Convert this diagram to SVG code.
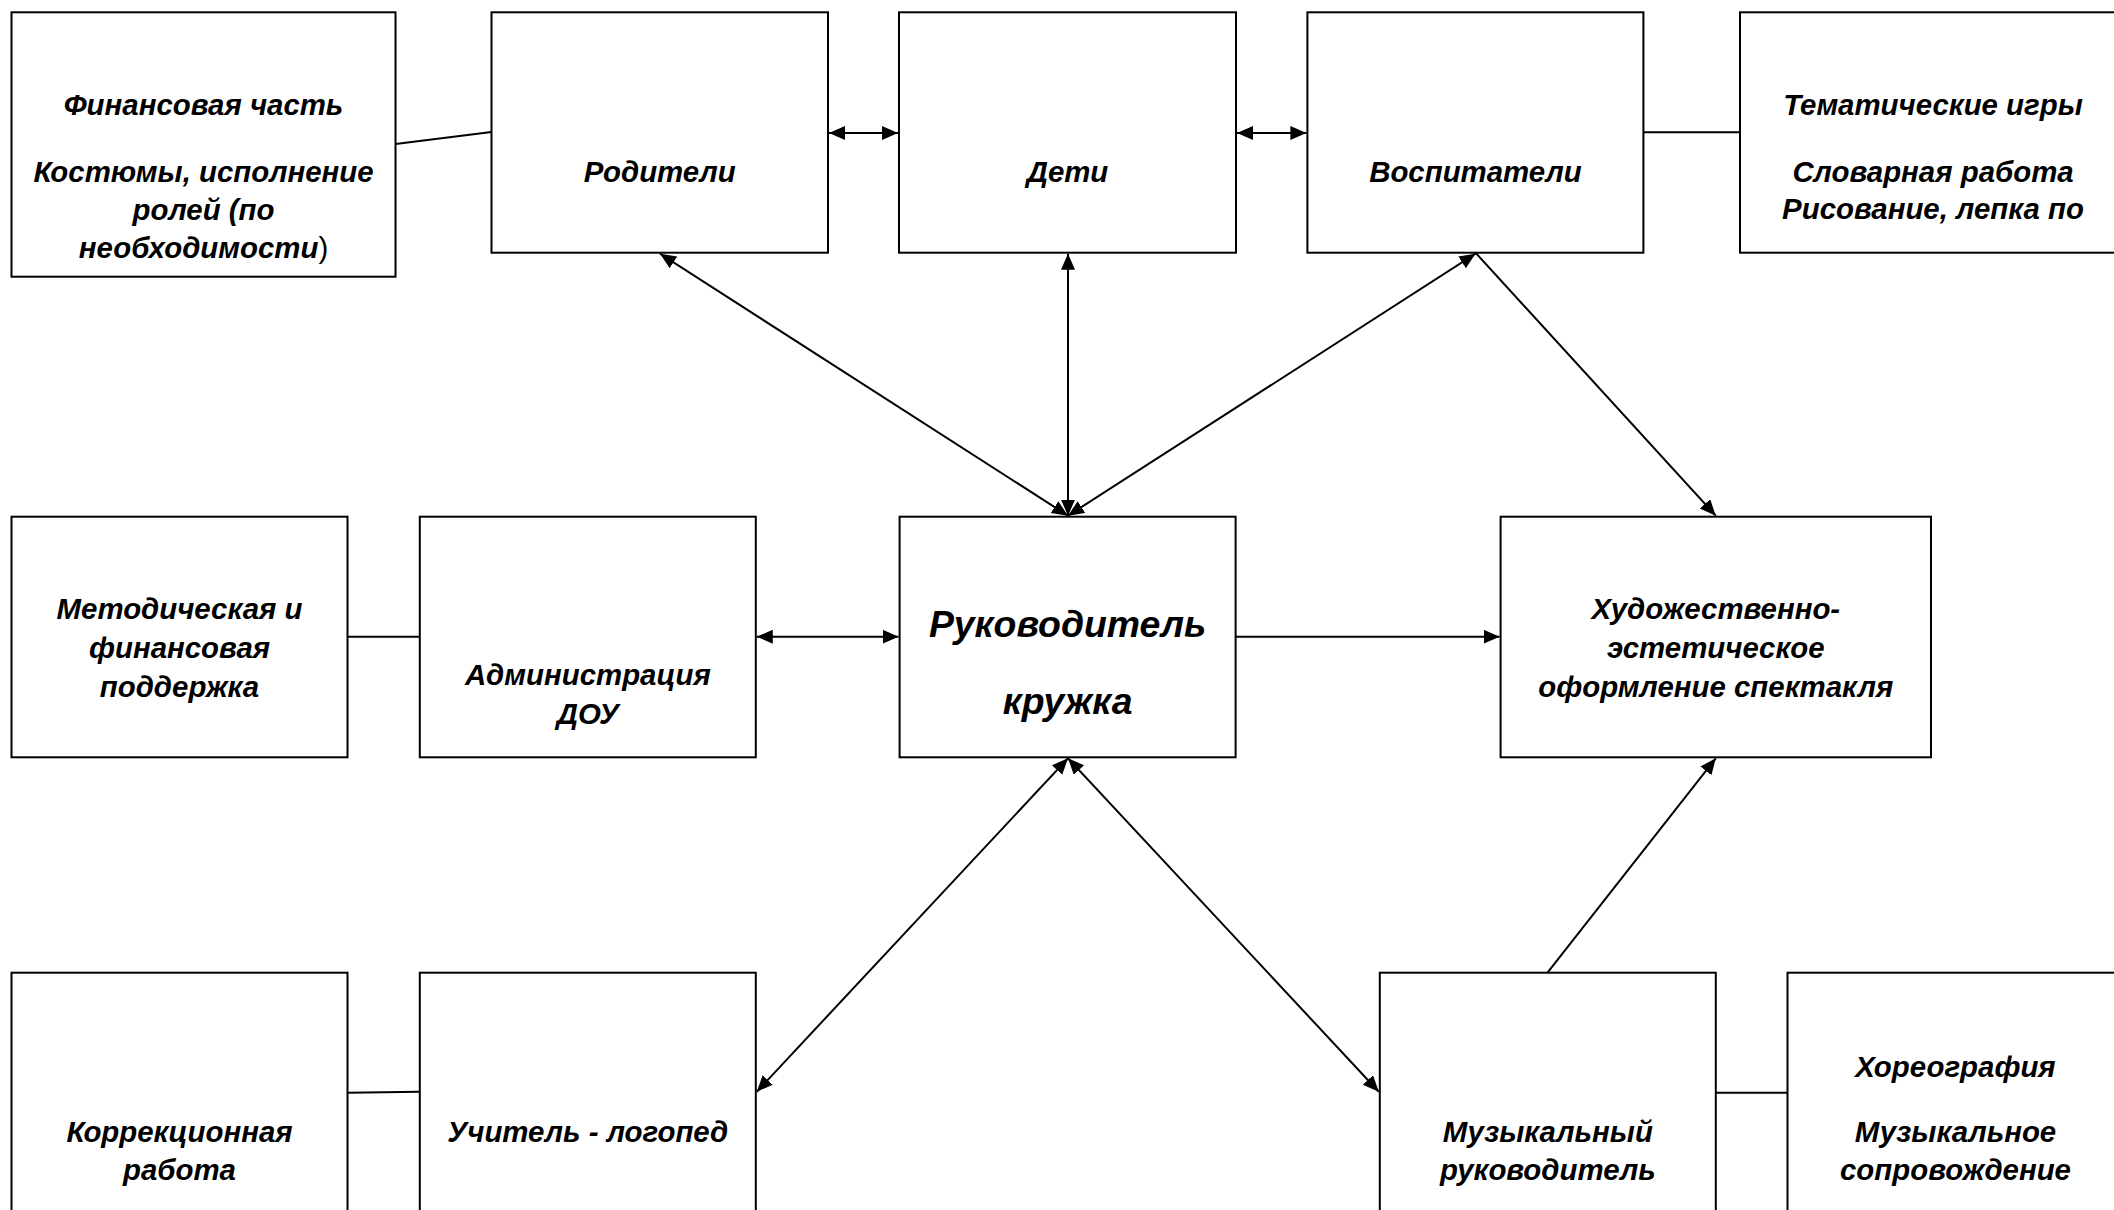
<svg xmlns="http://www.w3.org/2000/svg" width="2114" height="1210" viewBox="0 0 2114 1210">
<defs>
<style>
.box{fill:#fff;stroke:#000;stroke-width:2}
.t{font-family:"Liberation Sans",Arial,sans-serif;font-weight:bold;font-style:italic;font-size:29.4px;text-anchor:middle;fill:#000}
.big{font-size:37.4px}
.plain{font-weight:normal;font-style:normal}
.ln{stroke:#000;stroke-width:2;fill:none}
.a2{marker-start:url(#ah);marker-end:url(#ah)}
.a1{marker-end:url(#ah)}
</style>
<marker id="ah" markerUnits="userSpaceOnUse" markerWidth="18" markerHeight="16" refX="16" refY="7" orient="auto-start-reverse" viewBox="0 0 18 16">
<path d="M0,0 L16,7 L0,14 z" fill="#000"/>
</marker>
</defs>
<rect width="2114" height="1210" fill="#fff"/>

<g id="connectors">
<line class="ln" x1="395.5" y1="144" x2="491.5" y2="132"/>
<line class="ln a2" x1="829" y1="133" x2="898" y2="133"/>
<line class="ln a2" x1="1237" y1="133" x2="1306.4" y2="133"/>
<line class="ln" x1="1643.5" y1="132.3" x2="1740" y2="132.3"/>
<line class="ln" x1="347.5" y1="636.7" x2="419.8" y2="636.7"/>
<line class="ln a2" x1="756.8" y1="636.7" x2="898.6" y2="636.7"/>
<line class="ln a1" x1="1235.6" y1="636.7" x2="1499.6" y2="636.7"/>
<line class="ln a2" x1="660" y1="253.7" x2="1068" y2="515.7"/>
<line class="ln a2" x1="1068" y1="253.7" x2="1068" y2="515.7"/>
<line class="ln a2" x1="1475.5" y1="253.7" x2="1068" y2="515.7"/>
<line class="ln a1" x1="1475.5" y1="252.7" x2="1715.8" y2="515.7"/>
<line class="ln a2" x1="1068" y1="758.3" x2="756.8" y2="1091.7"/>
<line class="ln a2" x1="1068" y1="758.3" x2="1378.8" y2="1091.7"/>
<line class="ln a1" x1="1547.5" y1="972.7" x2="1715.8" y2="758.3"/>
<line class="ln" x1="347.5" y1="1092.7" x2="419.8" y2="1091.7"/>
<line class="ln" x1="1715.8" y1="1092.7" x2="1787.5" y2="1092.7"/>
</g>

<g id="n-fin">
<rect class="box" x="11.5" y="12.3" width="384" height="264.4"/>
<text class="t" x="203.5" y="115">Финансовая часть</text>
<text class="t" x="203.5" y="181.7">Костюмы, исполнение</text>
<text class="t" x="203.5" y="220">ролей (по</text>
<text class="t" x="203.5" y="258">необходимости<tspan class="plain">)</tspan></text>
</g>
<g id="n-rod">
<rect class="box" x="491.5" y="12.3" width="336.5" height="240.4"/>
<text class="t" x="659.8" y="181.7">Родители</text>
</g>
<g id="n-deti">
<rect class="box" x="899" y="12.3" width="337" height="240.4"/>
<text class="t" x="1067.5" y="181.7">Дети</text>
</g>
<g id="n-vosp">
<rect class="box" x="1307.4" y="12.3" width="336" height="240.4"/>
<text class="t" x="1475.5" y="181.7">Воспитатели</text>
</g>
<g id="n-tem">
<rect class="box" x="1740" y="12.3" width="386" height="240.4"/>
<text class="t" x="1933" y="115">Тематические игры</text>
<text class="t" x="1933" y="181.7">Словарная работа</text>
<text class="t" x="1933" y="219.3">Рисование, лепка по</text>
</g>
<g id="n-metod">
<rect class="box" x="11.5" y="516.7" width="336" height="240.6"/>
<text class="t" x="179.5" y="619.3">Методическая и</text>
<text class="t" x="179.5" y="658">финансовая</text>
<text class="t" x="179.5" y="696.7">поддержка</text>
</g>
<g id="n-admin">
<rect class="box" x="419.8" y="516.7" width="336" height="240.6"/>
<text class="t" x="587.8" y="685">Администрация</text>
<text class="t" x="587.8" y="723.5">ДОУ</text>
</g>
<g id="n-ruk">
<rect class="box" x="899.6" y="516.7" width="336" height="240.6"/>
<text class="t big" x="1067.6" y="637">Руководитель</text>
<text class="t big" x="1067.6" y="713.5">кружка</text>
</g>
<g id="n-hud">
<rect class="box" x="1500.6" y="516.7" width="430.4" height="240.6"/>
<text class="t" x="1715.8" y="619.3">Художественно-</text>
<text class="t" x="1715.8" y="658">эстетическое</text>
<text class="t" x="1715.8" y="696.7">оформление спектакля</text>
</g>
<g id="n-korr">
<rect class="box" x="11.5" y="972.7" width="336" height="260"/>
<text class="t" x="179.5" y="1141.7">Коррекционная</text>
<text class="t" x="179.5" y="1180">работа</text>
</g>
<g id="n-uch">
<rect class="box" x="419.8" y="972.7" width="336" height="260"/>
<text class="t" x="587.8" y="1141.7">Учитель - логопед</text>
</g>
<g id="n-muz">
<rect class="box" x="1379.8" y="972.7" width="336" height="260"/>
<text class="t" x="1547.8" y="1141.7">Музыкальный</text>
<text class="t" x="1547.8" y="1180">руководитель</text>
</g>
<g id="n-hor">
<rect class="box" x="1787.5" y="972.7" width="336" height="260"/>
<text class="t" x="1955.5" y="1076.7">Хореография</text>
<text class="t" x="1955.5" y="1141.7">Музыкальное</text>
<text class="t" x="1955.5" y="1180">сопровождение</text>
</g>
</svg>
